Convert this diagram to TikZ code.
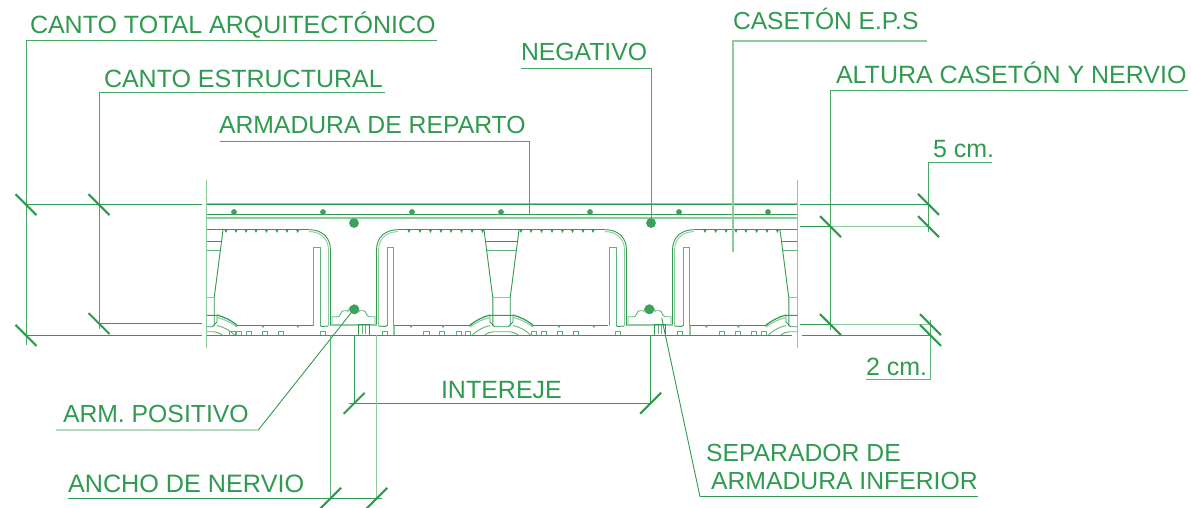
\documentclass[tikz,border=0pt]{standalone}
\usepackage{fontspec}
\setmainfont{Liberation Sans}
\usetikzlibrary{calc}
\definecolor{gmain}{HTML}{2F9A50}
\definecolor{glight}{HTML}{8CCB9E}
\definecolor{gmid}{HTML}{5DB47A}
\tikzset{
  x=1pt,y=-1pt,
  ln/.style={draw=gmain,line width=0.9pt},
  mid/.style={draw=gmid,line width=0.9pt},
  lt/.style={draw=glight,line width=1.1pt},
  leader/.style={draw=gmain!75!glight,line width=1pt},
  ticks/.style={draw=gmain,line width=2.1pt},
  txt/.style={anchor=base west,text=gmain,inner sep=0pt,outer sep=0pt,font=\fontsize{25}{25}\selectfont},
  txts/.style={txt,font=\fontsize{24.75}{25}\selectfont},
  dotb/.style={fill=gmain!85!glight},
}
\newcommand{\halfnerve}{%
  \draw[ln] (-44.5,229.7) .. controls (-33,229.7) and (-23,236) .. (-23,250) -- (-23,325.5);
  \draw[lt,line width=0.9pt] (-44.5,231.6) .. controls (-34,231.6) and (-25,238) .. (-25,250) -- (-25,325.5);
  \draw[mid] (-40.2,325.5) -- (-40.2,247.3) -- (-33.5,247.3) -- (-33.5,325.5);
  \draw[ln] (-33.5,325.5) -- (-31.5,326.5) -- (-25,326);
  \draw[mid] (-21.5,324.5) -- (-21.5,316.7) -- (-15.5,316.7) .. controls (-13,316.7) and (-12.5,310.7) .. (-10,310.7) -- (0,310.7);
  \draw[lt,line width=1.8pt] (-23,325) -- (0,325);
}
\newcommand{\halfwedge}{%
  \draw[ln] (0,326.7) -- (-7,326.7) -- (-11.5,322) -- (-11.5,315.3) -- (0,315.3);
  \draw[ln] (-17.5,230) -- (-8.7,297.7) -- (-8.7,326);
  \draw[ln,line width=1.5pt] (-15.9,241.7) -- (0,241.7);
  \draw[mid] (-14.7,250) -- (0,250);
  \draw[lt] (-8.7,297.7) -- (0,297.7);
  \draw[ln,line width=1.2pt] (-32.5,326) .. controls (-26,320.5) and (-19,317) .. (-11.5,315);
  \draw[lt] (-31.5,327) .. controls (-25,322) and (-18,319) .. (-11.5,317.5);
  \draw[mid] (-29,335) .. controls (-24,330) and (-18,327) .. (-11.5,325.5);
  \draw[mid] (-17,335) .. controls (-14,333) and (-11,332) .. (-8,331.7) -- (0,331.7);
}
\begin{document}
\begin{tikzpicture}
\useasboundingbox (0,0) rectangle (1191,507);

% ---- slab lines
\draw[ln] (207,204.6) -- (797,204.6);
\draw[lt] (207,203.2) -- (797,203.2);
\draw[ln] (207,214.3) -- (797,214.3);
\draw[lt,line width=2.2pt] (207,217.6) -- (797,217.6);
\draw[ln] (207,335.3) -- (792,335.3);
\foreach \a in {234,323,412,501,590,679,768}
  \fill[dotb] (\a,212) circle (2.9);
% break lines
\draw[lt] (206.7,180) -- (206.7,348);
\draw[lt] (797.4,180) -- (797.4,348);

% ---- casetón top & bottom lines
\draw[ln] (207,229.7) -- (309,229.7);
\draw[ln] (398,229.7) -- (605,229.7);
\draw[ln] (694,229.7) -- (797,229.7);
\draw[ln] (238,325.7) -- (313.3,325.7);
\draw[ln] (394,325.7) -- (469,325.7);
\draw[ln] (534,325.7) -- (608.3,325.7);
\draw[ln] (690,325.7) -- (765,325.7);

% teeth top
\foreach \a in {226,236,246,256,266.5,277,287,297.7,409,420,430.5,441,451,461.5,472,482.5,521,531,541.5,552,562.5,572.5,583,593,705,715.7,726,736,746,756.7,767,777.5}
  \fill[gmain] (\a-1.6,229.7) -- (\a+1.6,229.7) -- (\a,233) -- cycle;
% bumps bottom
\foreach \a in {263,298,411,443,559,594,706.5,738.5}
  \fill[gmid] (\a-1.6,325.7) -- (\a+1.6,325.7) -- (\a,328) -- cycle;
% small squares
\foreach \a in {229.5,236,246,262,278,320,382,423.5,439,456,465,531,541,557,573,615,677,719,735,751,761}
  \draw[mid] (\a,335) -- (\a,331.7) -- (\a+5.8,331.7) -- (\a+5.8,335);

% ---- nerves
\foreach \n in {353.5,649.5}{
  \begin{scope}[shift={(\n,0)}]
    \halfnerve
    \begin{scope}[xscale=-1]\halfnerve\end{scope}
    \draw[ln] (5,324.5) rectangle (15.5,335);
    \draw[mid] (8.5,325) -- (8.5,334) (11.8,325) -- (11.8,334);
    \draw[lt] (-6,312) arc[start angle=180,end angle=360,x radius=6,y radius=5.5];
  \end{scope}
}
\draw[lt] (394,325.5) -- (394,335);
\draw[lt] (690,325.5) -- (690,335);

% ---- wedges
\begin{scope}
  \clip (207,190) rectangle (797,345);
  \foreach \c in {205.5,501.5,797.5}{
    \begin{scope}[shift={(\c,0)}]
      \halfwedge
      \begin{scope}[xscale=-1]\halfwedge\end{scope}
    \end{scope}
  }
\end{scope}

% ---- bars
\fill[dotb] (354,223) circle (4.9);
\fill[dotb] (651,223) circle (4.9);
\fill[dotb] (354.3,309.3) circle (5);
\fill[dotb] (649.3,309.3) circle (5);

% ---- labels
\node[txt] (total) at (30,33) {CANTO TOTAL ARQUITECTÓNICO};
\node[txt] (estr) at (104,87) {CANTO ESTRUCTURAL};
\node[txts] (rep) at (219,133) {ARMADURA DE REPARTO};
\node[txts] (neg) at (521,60) {NEGATIVO};
\node[txts,font=\fontsize{24.6}{25}\selectfont] (cas) at (733,29.5) {CASETÓN E.P.S};
\node[txt] (alt) at (836,83) {ALTURA CASETÓN Y NERVIO};
\node[txt] (cinco) at (933,157) {5 cm.};
\node[txt] (dos) at (866,375) {2 cm.};
\node[txt] (inter) at (441,398) {INTEREJE};
\node[txts] (pos) at (63,422) {ARM. POSITIVO};
\node[txt,font=\fontsize{25.2}{25}\selectfont] (anc) at (68,492) {ANCHO DE NERVIO};
\node[txts] (sep1) at (706,461) {SEPARADOR DE};
\node[txts] (sep2) at (711,489) {ARMADURA INFERIOR};

% ---- named leader points
\coordinate (tickTT) at (26,204.6);
\coordinate (tickTB) at (26,335.3);
\coordinate (tickET) at (99,204.6);
\coordinate (tickEB) at (99,323.5);
\coordinate (tickAT) at (830.5,226.7);
\coordinate (tickAB) at (830.5,324.7);
\coordinate (tick5a) at (928.5,204.4);
\coordinate (tick5b) at (928.5,226.7);
\coordinate (tick2a) at (930.5,324.7);
\coordinate (tick2b) at (930.5,335.3);
\coordinate (tickIL) at (354.2,403.3);
\coordinate (tickIR) at (650.6,403.3);
\coordinate (tickNL) at (330.6,498.3);
\coordinate (tickNR) at (376.7,498.3);

% ---- leaders
\draw[leader] (437,40.8) -- (26,40.8) -- (26,345);
\draw[leader] (385,92.7) -- (99,92.7) -- (99,329);
\draw[leader] (220,141) -- (529,141) -- (529,214);
\draw[leader] (521,68) -- (651,68) -- (651,219);
\draw[leader,lt] (927,41) -- (733,41) -- (733,252);
\draw[leader] (1188,90) -- (830.4,90) -- (830.4,330);
\draw[leader] (992,162.7) -- (928.5,162.7) -- (928.5,232);
\draw[leader,draw=gmid] (866,379.3) -- (930.5,379.3) -- (930.5,320);
\draw[ln] (56,430) -- (258.3,430) -- (351,313);
\draw[ln] (700,496.7) -- (978,496.7);
\draw[ln] (700,496.7) -- (661.7,318);

% ---- dimension lines
\draw[ln] (26,204.6) -- (202,204.6);
\draw[ln] (26,335.3) -- (202,335.3);
\draw[ln] (99,323.5) -- (202,323.5);
\draw[ln] (800,204.4) -- (928.5,204.4);
\draw[ln] (800,226.7) -- (830.5,226.7);
\draw[lt] (830.5,226.7) -- (928.5,226.7);
\draw[ln] (800,324.7) -- (830.5,324.7);
\draw[lt] (830.5,324.7) -- (930.5,324.7);
\draw[ln] (802,335.3) -- (930.5,335.3);
\draw[ln] (349,403.3) -- (651,403.3);
\draw[ln] (68,498.3) -- (381.7,498.3);
\draw[mid] (330.6,335) -- (330.6,498);
\draw[ln] (354.2,335) -- (354.2,403);
\draw[lt] (376.7,335) -- (376.7,498);
\draw[ln] (650.6,335) -- (650.6,403);

% ---- ticks NW-SE
\foreach \p in {tickTT,tickTB,tickET,tickEB,tickAT,tickAB,tick5a,tick5b,tick2a,tick2b}
  \draw[ticks] ($(\p)+(-10.5,-10.5)$) -- ($(\p)+(10.5,10.5)$);
% ---- ticks SW-NE
\foreach \p in {tickIL,tickIR,tickNL,tickNR}
  \draw[ticks] ($(\p)+(-10.5,10.5)$) -- ($(\p)+(10.5,-10.5)$);
\end{tikzpicture}
\end{document}
